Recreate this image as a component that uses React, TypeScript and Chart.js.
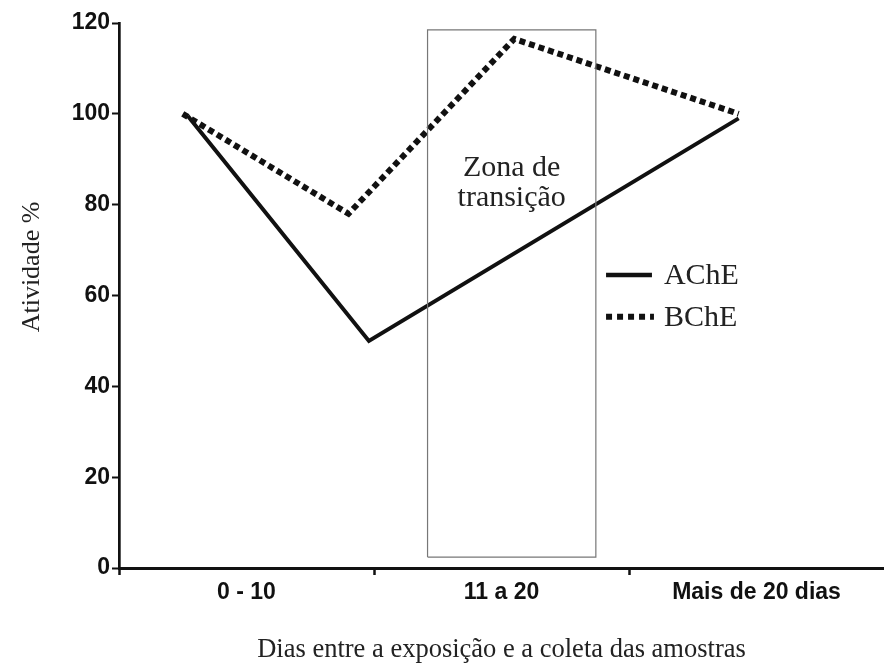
import React, { useEffect, useRef } from 'react';
import { Chart, registerables } from 'chart.js';
Chart.register(...registerables);

// Category labels and the x-axis divisions they sit between
const categories = ['0 - 10', '11 a 20', 'Mais de 20 dias'];
const categoryPositions = [0.5, 1.5, 2.5];
const dividerPositions = [0, 1, 2];

// Y axis ticks
const yTicks = [0, 20, 40, 60, 80, 100, 120];

// Series (x positions along the day axis, y = Atividade %)
const acheX = [0.27, 0.98, 2.43];
const acheY = [99.5, 50, 99];
const bcheX = [0.25, 0.9, 1.55, 2.43];
const bcheY = [100, 78, 116.5, 100];

// "Zona de transição" box
const zoneX = [1.21, 1.87];
const zoneY = [2.4, 118.5];
const zoneLabel = ['Zona de', 'transição'];

const seriesNames = ['AChE', 'BChE'];
const xTitle = 'Dias entre a exposição e a coleta das amostras';
const yTitle = 'Atividade %';

const INK = '#111';
const SERIF = '"Liberation Serif", "DejaVu Serif", serif';
const SANS = '"Liberation Sans", Arial, sans-serif';

export default function App() {
  const ref = useRef<HTMLCanvasElement>(null);
  useEffect(() => {
    document.body.style.margin = '0';
    const overlay = {
      id: 'overlay',
      afterDatasetsDraw(chart: any) {
        const { ctx, scales } = chart;
        const xs = scales.x;
        const ys = scales.y;
        ctx.save();
        // zone text
        ctx.fillStyle = '#222';
        ctx.font = `30px ${SERIF}`;
        ctx.textAlign = 'center';
        ctx.textBaseline = 'middle';
        const zx = xs.getPixelForValue((zoneX[0] + zoneX[1]) / 2);
        ctx.fillText(zoneLabel[0], zx, ys.getPixelForValue(88));
        ctx.fillText(zoneLabel[1], zx, ys.getPixelForValue(81.5));
        // legend
        const lx0 = xs.getPixelForValue(1.91);
        const lx1 = xs.getPixelForValue(2.09);
        const rows = [ys.getPixelForValue(64.5), ys.getPixelForValue(55.3)];
        ctx.strokeStyle = INK;
        ctx.lineCap = 'butt';
        ctx.lineWidth = 4.5;
        ctx.setLineDash([]);
        ctx.beginPath();
        ctx.moveTo(lx0, rows[0]);
        ctx.lineTo(lx1, rows[0]);
        ctx.stroke();
        ctx.lineWidth = 6;
        ctx.setLineDash([6, 5]);
        ctx.beginPath();
        ctx.moveTo(lx0, rows[1]);
        ctx.lineTo(lx1 + 2, rows[1]);
        ctx.stroke();
        ctx.setLineDash([]);
        ctx.textAlign = 'left';
        ctx.fillStyle = '#222';
        ctx.fillText(seriesNames[0], lx1 + 12, rows[0] + 1);
        ctx.fillText(seriesNames[1], lx1 + 12, rows[1] + 1);
        // y title
        ctx.font = `26px ${SERIF}`;
        ctx.translate(32, 267);
        ctx.rotate(-Math.PI / 2);
        ctx.textAlign = 'center';
        ctx.fillText(yTitle, 0, 0);
        ctx.restore();
      },
    };
    const chart = new Chart(ref.current!, {
      type: 'line',
      data: {
        datasets: [
          {
            label: 'zone',
            data: [
              { x: zoneX[0], y: zoneY[0] },
              { x: zoneX[0], y: zoneY[1] },
              { x: zoneX[1], y: zoneY[1] },
              { x: zoneX[1], y: zoneY[0] },
              { x: zoneX[0], y: zoneY[0] },
            ],
            borderColor: '#777',
            borderWidth: 1.2,
            pointRadius: 0,
            fill: false,
          },
          {
            label: seriesNames[0],
            data: acheX.map((x, i) => ({ x, y: acheY[i] })),
            borderColor: INK,
            borderWidth: 4,
            pointRadius: 0,
            borderJoinStyle: 'miter',
            fill: false,
          },
          {
            label: seriesNames[1],
            data: bcheX.map((x, i) => ({ x, y: bcheY[i] })),
            borderColor: INK,
            borderWidth: 6,
            borderDash: [6, 4],
            borderCapStyle: 'butt',
            pointRadius: 0,
            fill: false,
          },
        ],
      },
      options: {
        responsive: false,
        animation: false,
        layout: { padding: { top: 23, left: 0, right: 0, bottom: 0 } },
        plugins: { legend: { display: false }, tooltip: { enabled: false } },
        scales: {
          x: {
            type: 'linear',
            min: 0,
            max: 3,
            afterBuildTicks: (s: any) => {
              s.ticks = [...dividerPositions, ...categoryPositions]
                .sort((a, b) => a - b)
                .map((v) => ({ value: v }));
            },
            afterFit: (s: any) => {
              s.height = 95;
            },
            ticks: {
              autoSkip: false,
              maxRotation: 0,
              padding: 4,
              color: INK,
              font: { family: SANS, size: 23, weight: 'bold' },
              callback: (v: any) => {
                const i = categoryPositions.indexOf(Number(v));
                return i >= 0 ? categories[i] : '';
              },
            },
            grid: {
              drawOnChartArea: false,
              tickLength: 7,
              tickWidth: 2.5,
              tickColor: (c: any) =>
                c.tick && dividerPositions.includes(c.tick.value) ? INK : 'rgba(0,0,0,0)',
            },
            border: { display: true, color: INK, width: 3 },
            title: {
              display: true,
              text: xTitle,
              color: '#222',
              font: { family: SERIF, size: 26.5, lineHeight: 1 },
              padding: { top: 0, bottom: 0 },
            },
          },
          y: {
            min: 0,
            max: 120,
            afterBuildTicks: (s: any) => {
              s.ticks = yTicks.map((v) => ({ value: v }));
            },
            afterFit: (s: any) => {
              s.width = 119;
            },
            ticks: {
              padding: 2,
              color: INK,
              font: { family: SANS, size: 23, weight: 'bold' },
            },
            grid: {
              drawOnChartArea: false,
              tickLength: 7,
              tickWidth: 2,
              tickColor: INK,
            },
            border: { display: true, color: INK, width: 2.7 },
          },
        },
      },
      plugins: [overlay],
    });
    return () => chart.destroy();
  }, []);
  return (
    <div style={{ width: 884, height: 663 }}>
      <canvas ref={ref} width={884} height={663} style={{ display: 'block' }} />
    </div>
  );
}
